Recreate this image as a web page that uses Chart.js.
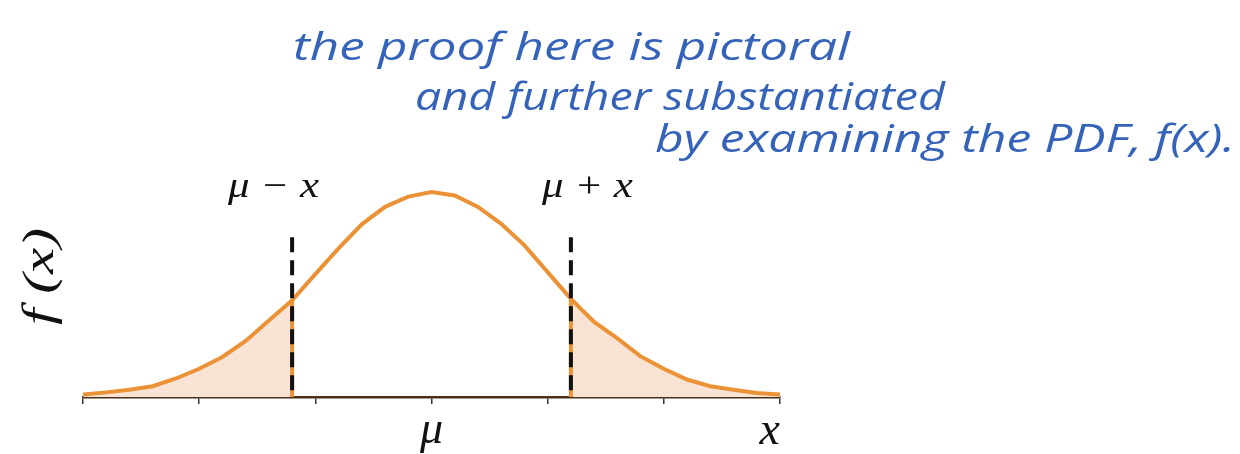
<!DOCTYPE html>
<html>
<head>
<meta charset="utf-8">
<title>Normal PDF tails</title>
<script src="https://cdn.jsdelivr.net/npm/chart.js@4.4.1/dist/chart.umd.min.js"></script>
<style>
  html, body { margin: 0; background: #fff; }
  #pdf-chart { display: block; }
</style>
</head>
<body>
<canvas id="pdf-chart" width="1240" height="454"></canvas>
<script>
// Curve samples (x in standard deviations from the mean, f(x) density)
const xValues = [-3.0, -2.8, -2.6, -2.4, -2.2, -2.0, -1.8, -1.6, -1.4, -1.2, -1.0,
                 -0.8, -0.6, -0.4, -0.2, 0.0, 0.2, 0.4, 0.6, 0.8, 1.0,
                 1.2, 1.4, 1.6, 1.8, 2.0, 2.2, 2.4, 2.6, 2.8, 3.0];
const densityValues = [0.005, 0.009, 0.014, 0.021, 0.036, 0.055, 0.078, 0.109, 0.149, 0.188, 0.239,
                       0.289, 0.336, 0.370, 0.390, 0.399, 0.392, 0.370, 0.337, 0.295, 0.243,
                       0.191, 0.146, 0.114, 0.079, 0.055, 0.034, 0.021, 0.014, 0.008, 0.005];

// Where the shaded tails start, and how tall the dashed markers run
const boundValues = [-1.2, 1.2];
const boundDensity = [0.188, 0.191];
const dashTop = 0.311;

// Axis ticks and the labels drawn under some of them
const tickValues = [-3, -2, -1, 0, 1, 2, 3];
const tickLabels = ['', '', '', 'μ', '', '', 'x'];
const boundLabels = ['μ − x', 'μ + x'];
const yTitle = 'f (x)';
const noteLines = ['the proof here is pictoral', 'and further substantiated', 'by examining the PDF, f(x).'];

const ORANGE = '#ec9236';
const TAIL_FILL = '#f9e3d4';
const INK = '#111111';
const PEN = '#3563b9';

const curvePoints = xValues.map((v, i) => ({ x: v, y: densityValues[i] }));
const leftTail = curvePoints.filter(p => p.x <= boundValues[0] + 1e-9);
const rightTail = curvePoints.filter(p => p.x >= boundValues[1] - 1e-9);

// draw text squeezed/stretched to a given width
function fitText(ctx, text, x, y, width) {
  const w = ctx.measureText(text).width;
  ctx.save();
  ctx.translate(x, y);
  ctx.scale(width / w, 1);
  ctx.fillText(text, 0, 0);
  ctx.restore();
}

const labelPlugin = {
  id: 'pdfLabels',
  afterDraw(chart) {
    const { ctx, scales } = chart;
    const xs = scales.x;
    ctx.save();
    ctx.fillStyle = INK;
    ctx.textBaseline = 'alphabetic';

    // labels under the axis
    ctx.font = 'italic 46px "Liberation Serif"';
    tickValues.forEach((v, i) => {
      if (!tickLabels[i]) return;
      const px = xs.getPixelForValue(v);
      if (i === tickValues.length - 1) {
        ctx.textAlign = 'right';
        ctx.fillText(tickLabels[i], px, 444);
      } else {
        ctx.textAlign = 'center';
        ctx.fillText(tickLabels[i], px, 443);
      }
    });

    // labels over the dashed markers
    ctx.font = 'italic 36px "Liberation Serif"';
    ctx.textAlign = 'left';
    boundValues.forEach((v, i) => {
      const px = xs.getPixelForValue(v);
      const left = i === 0 ? px - 64 : px - 29;
      fitText(ctx, boundLabels[i], left, 197, 91);
    });

    // rotated y title
    ctx.font = 'italic 44px "Liberation Serif"';
    ctx.save();
    ctx.translate(53, 325);
    ctx.rotate(-Math.PI / 2);
    fitText(ctx, yTitle, 0, 0, 97);
    ctx.restore();

    // handwritten note
    ctx.fillStyle = PEN;
    ctx.font = 'italic 38px "Open Sans"';
    fitText(ctx, noteLines[0], 293, 60, 557);
    fitText(ctx, noteLines[1], 415, 110, 530);
    fitText(ctx, noteLines[2], 655, 152, 580);
    ctx.restore();
  }
};

// dashed marker runs top-down so the dash pattern starts at its upper end
function dashedMarker(v) {
  return {
    data: [{ x: v, y: dashTop }, { x: v, y: 0 }],
    borderColor: INK, borderWidth: 4, borderDash: [15, 8], fill: false, order: 1
  };
}

function tailEdge(v, top) {
  return {
    data: [{ x: v, y: 0 }, { x: v, y: top }],
    borderColor: ORANGE, borderWidth: 4, fill: false, order: 2
  };
}

new Chart(document.getElementById('pdf-chart'), {
  type: 'line',
  data: {
    datasets: [
      {
        data: leftTail, borderColor: ORANGE, borderWidth: 0,
        backgroundColor: TAIL_FILL, fill: 'origin', order: 5
      },
      {
        data: rightTail, borderColor: ORANGE, borderWidth: 0,
        backgroundColor: TAIL_FILL, fill: 'origin', order: 5
      },
      {
        data: curvePoints, borderColor: ORANGE, borderWidth: 4,
        fill: false, order: 3
      },
      tailEdge(boundValues[0], boundDensity[0]),
      tailEdge(boundValues[1], boundDensity[1]),
      dashedMarker(boundValues[0]),
      dashedMarker(boundValues[1])
    ]
  },
  options: {
    responsive: false,
    animation: false,
    layout: { padding: { left: 83, right: 460, top: 157, bottom: 50 } },
    elements: { point: { radius: 0 }, line: { tension: 0, borderCapStyle: 'butt' } },
    plugins: { legend: { display: false }, tooltip: { enabled: false } },
    scales: {
      x: {
        type: 'linear',
        min: -3,
        max: 3,
        z: 1,
        afterBuildTicks: scale => { scale.ticks = tickValues.map(v => ({ value: v })); },
        ticks: { display: false },
        grid: { drawOnChartArea: false, drawTicks: true, tickLength: 7, color: '#333', lineWidth: 1.5 },
        border: { display: true, color: '#4a3018', width: 2.5 }
      },
      y: {
        display: false,
        min: 0,
        max: 0.467
      }
    }
  },
  plugins: [labelPlugin]
});
</script>
</body>
</html>
